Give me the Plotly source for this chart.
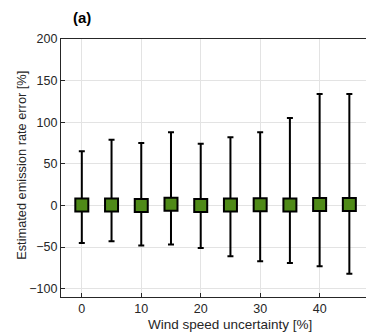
import plotly.graph_objects as go

# Wind speed uncertainty levels [%]
wind_uncertainty = [0, 5, 10, 15, 20, 25, 30, 35, 40, 45]
# Median estimated emission rate error [%]
median_error = [0.5, 0.5, 0.0, 1.5, 0.0, 0.5, 0.8, 0.5, 1.2, 1.2]
# Upper and lower bounds of the error spread [%]
upper_error = [65, 79, 75, 88, 74, 82, 88, 105, 134, 134]
lower_error = [-45, -43, -48, -47, -51, -61, -67, -69, -73, -82]

x_ticks = [0, 10, 20, 30, 40]
y_ticks = [-100, -50, 0, 50, 100, 150, 200]

plus = [u - m for u, m in zip(upper_error, median_error)]
minus = [m - l for m, l in zip(median_error, lower_error)]

axis_color = "#262626"
font_family = "Liberation Sans, Arial, Helvetica, sans-serif"

fig = go.Figure()
fig.add_trace(go.Scatter(
    x=wind_uncertainty,
    y=median_error,
    mode="markers",
    marker=dict(symbol="square", size=13, color="#4f8a18",
                line=dict(color="#000000", width=2)),
    error_y=dict(type="data", symmetric=False, array=plus, arrayminus=minus,
                 color="#000000", thickness=2, width=3),
    showlegend=False,
))

fig.update_layout(
    width=366, height=335,
    margin=dict(l=61, r=0, t=39, b=38),
    paper_bgcolor="white", plot_bgcolor="white",
    font=dict(family=font_family, size=12.5, color=axis_color),
    annotations=[
        dict(text="<b>(a)</b>", xref="paper", yref="paper",
             x=0.07, y=1.0, yshift=11, xanchor="center", yanchor="bottom",
             showarrow=False, font=dict(size=15, color="#000000")),
        dict(text="Wind speed uncertainty [%]", xref="paper", yref="paper",
             x=0.554, y=-0.107, xanchor="center", yanchor="middle",
             showarrow=False, font=dict(size=13.5, color=axis_color)),
        dict(text="Estimated emission rate error [%]", xref="paper", yref="paper",
             x=-0.128, y=0.512, xanchor="center", yanchor="middle", textangle=-90,
             showarrow=False, font=dict(size=12.8, color=axis_color)),
    ],
)

fig.update_xaxes(
    range=[-3.5, 47.8], tickvals=x_ticks,
    showgrid=True, gridcolor="#e3e3e3", gridwidth=1, zeroline=False,
    showline=True, linecolor=axis_color, linewidth=1.2, mirror=True,
    ticks="inside", ticklen=4, tickcolor=axis_color,
    tickfont=dict(size=12.5, color=axis_color),
)
fig.update_yaxes(
    range=[-110, 200], tickvals=y_ticks,
    showgrid=True, gridcolor="#e3e3e3", gridwidth=1, zeroline=False,
    showline=True, linecolor=axis_color, linewidth=1.2,
    ticks="inside", ticklen=4, tickcolor=axis_color,
    tickfont=dict(size=12.5, color=axis_color),
)

fig.write_html("out.html")
